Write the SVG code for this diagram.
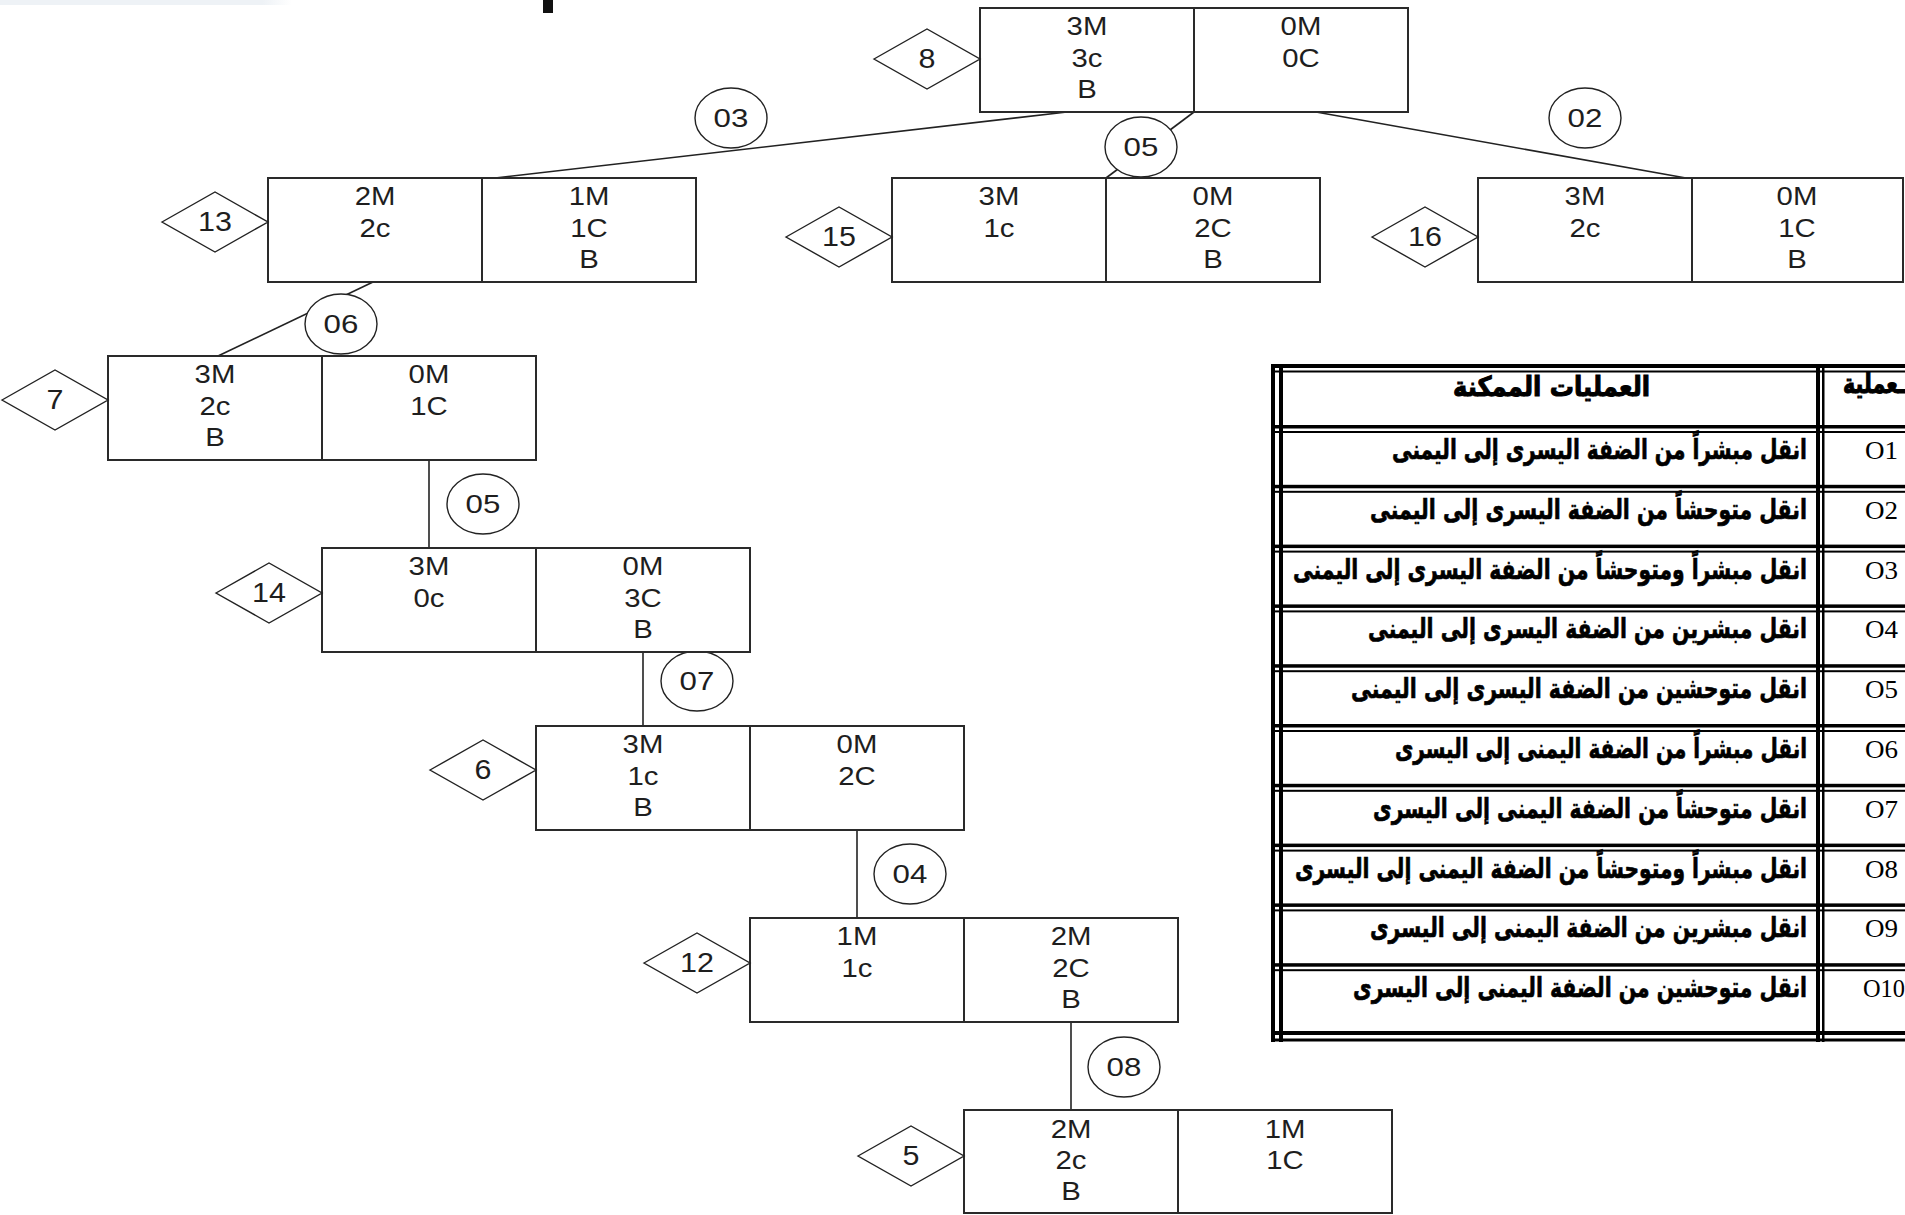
<svg xmlns="http://www.w3.org/2000/svg" width="1905" height="1215" viewBox="0 0 1905 1215">
<defs>
<linearGradient id="fade" x1="0" y1="0" x2="1" y2="0">
<stop offset="0" stop-color="#eef2f6"/><stop offset="0.9" stop-color="#eef2f6"/><stop offset="1" stop-color="#eef2f6" stop-opacity="0"/>
</linearGradient>
<style>
.box{fill:#fff;stroke:#2a2a2a;stroke-width:2}
.div{stroke:#2a2a2a;stroke-width:2}
.dia{fill:#fff;stroke:#222;stroke-width:1.4}
.cir{fill:#fff;stroke:#222;stroke-width:1.4}
.con{stroke:#222;stroke-width:1.6;fill:none}
.lb{font-family:"Liberation Sans",Arial,sans-serif;font-size:25.5px;fill:#1e1e1e;text-anchor:middle;transform-box:fill-box;transform-origin:center;transform:scaleX(1.15)}
.num{font-family:"Liberation Sans",Arial,sans-serif;font-size:27px;fill:#1e1e1e;text-anchor:middle;transform-box:fill-box;transform-origin:center;transform:scaleX(1.13)}
.cn{font-family:"Liberation Sans",Arial,sans-serif;font-size:26.5px;fill:#1e1e1e;text-anchor:middle;transform-box:fill-box;transform-origin:center;transform:scaleX(1.18)}
.tl{fill:#000}
.ar{font-family:"DejaVu Sans",sans-serif;font-weight:bold;font-size:20.5px;fill:#000;stroke:#000;stroke-width:0.5}
.hd{font-family:"DejaVu Sans",sans-serif;font-weight:bold;font-size:21px;fill:#000;stroke:#000;stroke-width:0.8}
.op{font-family:"Liberation Serif","Times New Roman",serif;font-size:25px;fill:#000}
</style>
</defs>
<rect x="0" y="0" width="1905" height="1215" fill="#fff"/>
<rect x="0" y="0" width="292" height="5" fill="url(#fade)"/>
<rect x="543" y="0" width="10" height="13" fill="#111"/>

<g id="connectors">
<line class="con" x1="495" y1="178" x2="1067" y2="112"/>
<line class="con" x1="1194" y1="112" x2="1106" y2="178"/>
<line class="con" x1="1316" y1="112" x2="1686" y2="178"/>
<line class="con" x1="373" y1="282" x2="218" y2="356"/>
<line class="con" x1="429" y1="460" x2="429" y2="548"/>
<line class="con" x1="643" y1="652" x2="643" y2="726"/>
<line class="con" x1="857" y1="830" x2="857" y2="918"/>
<line class="con" x1="1071" y1="1022" x2="1071" y2="1110"/>
<g id="label-03"><ellipse class="cir" cx="731" cy="118" rx="36" ry="30"/><text class="cn" x="731" y="127">03</text></g>
<g id="label-05a"><ellipse class="cir" cx="1141" cy="147" rx="36" ry="30"/><text class="cn" x="1141" y="156">05</text></g>
<g id="label-02"><ellipse class="cir" cx="1585" cy="118" rx="36" ry="30"/><text class="cn" x="1585" y="127">02</text></g>
<g id="label-06"><ellipse class="cir" cx="341" cy="324" rx="36" ry="30"/><text class="cn" x="341" y="333">06</text></g>
<g id="label-05b"><ellipse class="cir" cx="483" cy="504" rx="36" ry="30"/><text class="cn" x="483" y="513">05</text></g>
<g id="label-07"><ellipse class="cir" cx="697" cy="681" rx="36" ry="30"/><text class="cn" x="697" y="690">07</text></g>
<g id="label-04"><ellipse class="cir" cx="910" cy="874" rx="36" ry="30"/><text class="cn" x="910" y="883">04</text></g>
<g id="label-08"><ellipse class="cir" cx="1124" cy="1067" rx="36" ry="30"/><text class="cn" x="1124" y="1076">08</text></g>
</g>

<g id="node-8">
<rect class="box" x="980" y="8" width="428" height="104"/>
<line class="div" x1="1194" y1="8" x2="1194" y2="112"/>
<text class="lb" x="1087" y="35">3M</text><text class="lb" x="1087" y="67">3c</text><text class="lb" x="1087" y="98">B</text>
<text class="lb" x="1301" y="35">0M</text><text class="lb" x="1301" y="67">0C</text>
<polygon class="dia" points="874,59 927,29 980,59 927,89"/><text class="num" x="927" y="68.5">8</text>
</g>

<g id="node-13">
<rect class="box" x="268" y="178" width="428" height="104"/>
<line class="div" x1="482" y1="178" x2="482" y2="282"/>
<text class="lb" x="375" y="205">2M</text><text class="lb" x="375" y="237">2c</text>
<text class="lb" x="589" y="205">1M</text><text class="lb" x="589" y="237">1C</text><text class="lb" x="589" y="268">B</text>
<polygon class="dia" points="162,222 215,192 268,222 215,252"/><text class="num" x="215" y="231.5">13</text>
</g>

<g id="node-15">
<rect class="box" x="892" y="178" width="428" height="104"/>
<line class="div" x1="1106" y1="178" x2="1106" y2="282"/>
<text class="lb" x="999" y="205">3M</text><text class="lb" x="999" y="237">1c</text>
<text class="lb" x="1213" y="205">0M</text><text class="lb" x="1213" y="237">2C</text><text class="lb" x="1213" y="268">B</text>
<polygon class="dia" points="786,237 839,207 892,237 839,267"/><text class="num" x="839" y="246.5">15</text>
</g>

<g id="node-16">
<rect class="box" x="1478" y="178" width="425" height="104"/>
<line class="div" x1="1692" y1="178" x2="1692" y2="282"/>
<text class="lb" x="1585" y="205">3M</text><text class="lb" x="1585" y="237">2c</text>
<text class="lb" x="1797" y="205">0M</text><text class="lb" x="1797" y="237">1C</text><text class="lb" x="1797" y="268">B</text>
<polygon class="dia" points="1372,237 1425,207 1478,237 1425,267"/><text class="num" x="1425" y="246.5">16</text>
</g>

<g id="node-7">
<rect class="box" x="108" y="356" width="428" height="104"/>
<line class="div" x1="322" y1="356" x2="322" y2="460"/>
<text class="lb" x="215" y="383">3M</text><text class="lb" x="215" y="415">2c</text><text class="lb" x="215" y="446">B</text>
<text class="lb" x="429" y="383">0M</text><text class="lb" x="429" y="415">1C</text>
<polygon class="dia" points="2,400 55,370 108,400 55,430"/><text class="num" x="55" y="409.5">7</text>
</g>

<g id="node-14">
<rect class="box" x="322" y="548" width="428" height="104"/>
<line class="div" x1="536" y1="548" x2="536" y2="652"/>
<text class="lb" x="429" y="575">3M</text><text class="lb" x="429" y="607">0c</text>
<text class="lb" x="643" y="575">0M</text><text class="lb" x="643" y="607">3C</text><text class="lb" x="643" y="638">B</text>
<polygon class="dia" points="216,593 269,563 322,593 269,623"/><text class="num" x="269" y="602.5">14</text>
</g>

<g id="node-6">
<rect class="box" x="536" y="726" width="428" height="104"/>
<line class="div" x1="750" y1="726" x2="750" y2="830"/>
<text class="lb" x="643" y="753">3M</text><text class="lb" x="643" y="785">1c</text><text class="lb" x="643" y="816">B</text>
<text class="lb" x="857" y="753">0M</text><text class="lb" x="857" y="785">2C</text>
<polygon class="dia" points="430,770 483,740 536,770 483,800"/><text class="num" x="483" y="779.5">6</text>
</g>

<g id="node-12">
<rect class="box" x="750" y="918" width="428" height="104"/>
<line class="div" x1="964" y1="918" x2="964" y2="1022"/>
<text class="lb" x="857" y="945">1M</text><text class="lb" x="857" y="977">1c</text>
<text class="lb" x="1071" y="945">2M</text><text class="lb" x="1071" y="977">2C</text><text class="lb" x="1071" y="1008">B</text>
<polygon class="dia" points="644,963 697,933 750,963 697,993"/><text class="num" x="697" y="972.5">12</text>
</g>

<g id="node-5">
<rect class="box" x="964" y="1110" width="428" height="103"/>
<line class="div" x1="1178" y1="1110" x2="1178" y2="1213"/>
<text class="lb" x="1071" y="1138">2M</text><text class="lb" x="1071" y="1169">2c</text><text class="lb" x="1071" y="1200">B</text>
<text class="lb" x="1285" y="1138">1M</text><text class="lb" x="1285" y="1169">1C</text>
<polygon class="dia" points="858,1156 911,1126 964,1156 911,1186"/><text class="num" x="911" y="1165.5">5</text>
</g>

<g id="table">
<rect class="tl" x="1271" y="364" width="4" height="678"/>
<rect class="tl" x="1279" y="364" width="4" height="678"/>
<rect class="tl" x="1816" y="364" width="4" height="678"/>
<rect class="tl" x="1822" y="364" width="2.5" height="678"/>
<rect class="tl" x="1271" y="364" width="634" height="4"/>
<rect class="tl" x="1271" y="370.5" width="634" height="2"/>
<rect class="tl" x="1271" y="425" width="634" height="3.5"/><rect class="tl" x="1271" y="431" width="634" height="2"/>
<rect class="tl" x="1271" y="484.8" width="634" height="3.5"/><rect class="tl" x="1271" y="490.8" width="634" height="2"/>
<rect class="tl" x="1271" y="544.6" width="634" height="3.5"/><rect class="tl" x="1271" y="550.6" width="634" height="2"/>
<rect class="tl" x="1271" y="604.4" width="634" height="3.5"/><rect class="tl" x="1271" y="610.4" width="634" height="2"/>
<rect class="tl" x="1271" y="664.2" width="634" height="3.5"/><rect class="tl" x="1271" y="670.2" width="634" height="2"/>
<rect class="tl" x="1271" y="724" width="634" height="3.5"/><rect class="tl" x="1271" y="730" width="634" height="2"/>
<rect class="tl" x="1271" y="783.8" width="634" height="3.5"/><rect class="tl" x="1271" y="789.8" width="634" height="2"/>
<rect class="tl" x="1271" y="843.6" width="634" height="3.5"/><rect class="tl" x="1271" y="849.6" width="634" height="2"/>
<rect class="tl" x="1271" y="903.4" width="634" height="3.5"/><rect class="tl" x="1271" y="909.4" width="634" height="2"/>
<rect class="tl" x="1271" y="963.2" width="634" height="3.5"/><rect class="tl" x="1271" y="969.2" width="634" height="2"/>
<rect class="tl" x="1271" y="1031" width="634" height="4"/>
<rect class="tl" x="1271" y="1038.5" width="634" height="3"/>

<text class="hd" transform="translate(1650,396) scale(1,1.3)" direction="rtl" text-anchor="start" textLength="197" lengthAdjust="spacingAndGlyphs">العمليات الممكنة</text>
<text class="hd" transform="translate(1905,393) scale(1,1.3)" direction="rtl" text-anchor="start" textLength="62" lengthAdjust="spacingAndGlyphs">ـعملية</text>

<text class="ar" transform="translate(1807,459) scale(1,1.35)" direction="rtl" text-anchor="start" textLength="415" lengthAdjust="spacingAndGlyphs">انقل مبشراً من الضفة اليسرى إلى اليمنى</text>
<text class="ar" transform="translate(1807,518.8) scale(1,1.35)" direction="rtl" text-anchor="start" textLength="437" lengthAdjust="spacingAndGlyphs">انقل متوحشاً من الضفة اليسرى إلى اليمنى</text>
<text class="ar" transform="translate(1807,578.6) scale(1,1.35)" direction="rtl" text-anchor="start" textLength="514" lengthAdjust="spacingAndGlyphs">انقل مبشراً ومتوحشاً من الضفة اليسرى إلى اليمنى</text>
<text class="ar" transform="translate(1807,638.4) scale(1,1.35)" direction="rtl" text-anchor="start" textLength="439" lengthAdjust="spacingAndGlyphs">انقل مبشرين من الضفة اليسرى إلى اليمنى</text>
<text class="ar" transform="translate(1807,698.2) scale(1,1.35)" direction="rtl" text-anchor="start" textLength="456" lengthAdjust="spacingAndGlyphs">انقل متوحشين من الضفة اليسرى إلى اليمنى</text>
<text class="ar" transform="translate(1807,758) scale(1,1.35)" direction="rtl" text-anchor="start" textLength="412" lengthAdjust="spacingAndGlyphs">انقل مبشراً من الضفة اليمنى إلى اليسرى</text>
<text class="ar" transform="translate(1807,817.8) scale(1,1.35)" direction="rtl" text-anchor="start" textLength="434" lengthAdjust="spacingAndGlyphs">انقل متوحشاً من الضفة اليمنى إلى اليسرى</text>
<text class="ar" transform="translate(1807,877.6) scale(1,1.35)" direction="rtl" text-anchor="start" textLength="512" lengthAdjust="spacingAndGlyphs">انقل مبشراً ومتوحشاً من الضفة اليمنى إلى اليسرى</text>
<text class="ar" transform="translate(1807,937.4) scale(1,1.35)" direction="rtl" text-anchor="start" textLength="437" lengthAdjust="spacingAndGlyphs">انقل مبشرين من الضفة اليمنى إلى اليسرى</text>
<text class="ar" transform="translate(1807,997.2) scale(1,1.35)" direction="rtl" text-anchor="start" textLength="454" lengthAdjust="spacingAndGlyphs">انقل متوحشين من الضفة اليمنى إلى اليسرى</text>

<text class="op" x="1865" y="459" textLength="33" lengthAdjust="spacingAndGlyphs">O1</text>
<text class="op" x="1865" y="518.8" textLength="33" lengthAdjust="spacingAndGlyphs">O2</text>
<text class="op" x="1865" y="578.6" textLength="33" lengthAdjust="spacingAndGlyphs">O3</text>
<text class="op" x="1865" y="638.4" textLength="33" lengthAdjust="spacingAndGlyphs">O4</text>
<text class="op" x="1865" y="698.2" textLength="33" lengthAdjust="spacingAndGlyphs">O5</text>
<text class="op" x="1865" y="758" textLength="33" lengthAdjust="spacingAndGlyphs">O6</text>
<text class="op" x="1865" y="817.8" textLength="33" lengthAdjust="spacingAndGlyphs">O7</text>
<text class="op" x="1865" y="877.6" textLength="33" lengthAdjust="spacingAndGlyphs">O8</text>
<text class="op" x="1865" y="937.4" textLength="33" lengthAdjust="spacingAndGlyphs">O9</text>
<text class="op" x="1863" y="997.2" textLength="42" lengthAdjust="spacingAndGlyphs">O10</text>
</g>
</svg>
